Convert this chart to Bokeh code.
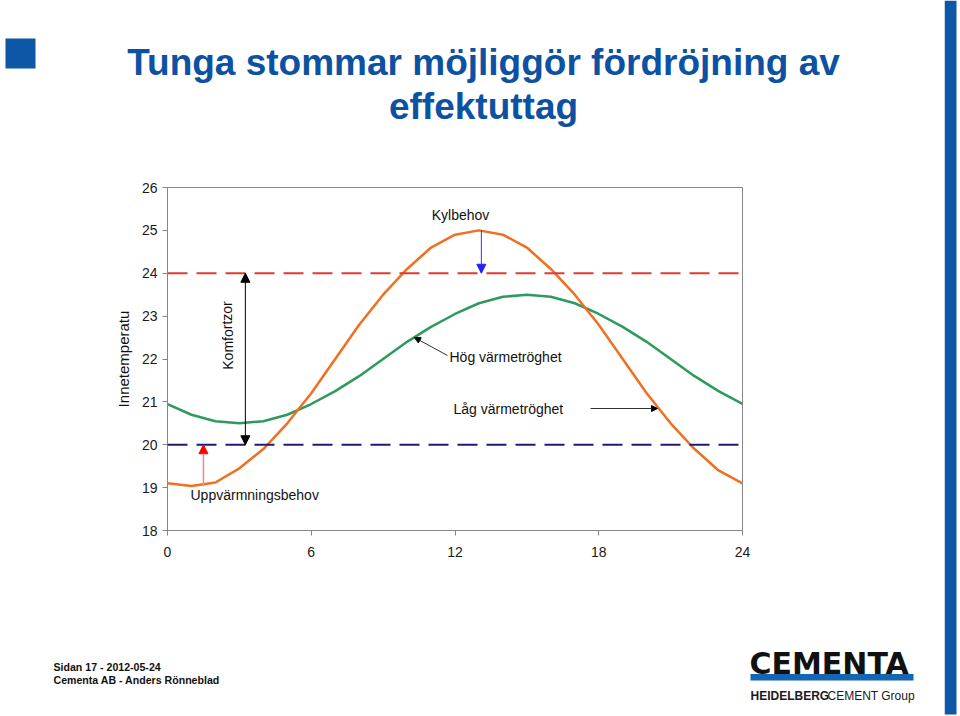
from bokeh.plotting import figure
from bokeh.layouts import column, row
from bokeh.models import Range1d, FixedTicker, Span, Label, Arrow, NormalHead
from bokeh.embed import file_html
from bokeh.resources import INLINE

# ---------------- data ----------------
hours = list(range(25))
lag_varmetroghet = [19.1, 19.04, 19.12, 19.45, 19.9, 20.5, 21.2, 22.0, 22.8, 23.5, 24.1, 24.6, 24.9,
                    25.0, 24.9, 24.6, 24.1, 23.5, 22.8, 22.0, 21.2, 20.5, 19.9, 19.4, 19.1]
hog_varmetroghet = [20.95, 20.7, 20.55, 20.5, 20.55, 20.7, 20.95, 21.25, 21.6, 22.0, 22.4, 22.75, 23.05,
                    23.3, 23.45, 23.5, 23.45, 23.3, 23.05, 22.75, 22.4, 22.0, 21.6, 21.25, 20.95]
komfort_min = 20
komfort_max = 24
x_ticks = [0, 6, 12, 18, 24]
y_ticks = [18, 19, 20, 21, 22, 23, 24, 25, 26]

# ---------------- page geometry ----------------
PW = 944            # width of the main column (right blue bar strip beside it)
TOP_H = 150         # title band
MID_H = 450         # chart band
BOT_H = 716 - TOP_H - MID_H
FL, FR, FT, FB = 167, 742, 187, 530   # chart frame in page pixels
X0, X1, Y0, Y1 = 0, 24, 18, 26
BLUE = "#0d57a6"
TITLE_BLUE = "#0d52a2"


def dx(px):
    return X0 + (px - FL) / (FR - FL) * (X1 - X0)


def dy(py):
    return Y0 + (FB - py) / (FB - FT) * (Y1 - Y0)


def band(w, h, x_left, y_top):
    f = figure(width=w, height=h, output_backend="svg", toolbar_location=None,
               x_range=Range1d(x_left, x_left + w),
               y_range=Range1d(y_top + h, y_top),
               min_border=0, x_axis_location=None, y_axis_location=None,
               frame_align=False)
    f.grid.visible = False
    f.outline_line_color = None
    f.background_fill_color = "white"
    f.border_fill_color = "white"
    return f


def lab(fig, text, x, y, size="14px", align="left", baseline="middle", angle=0,
        font="Liberation Sans", color="#111111", style="normal"):
    fig.add_layout(Label(x=x, y=y, text=text, text_font=font, text_font_size=size,
                         text_align=align, text_baseline=baseline, angle=angle,
                         text_color=color, text_font_style=style))


# ---------------- title band ----------------
top = band(PW, TOP_H, 0, 0)
top.quad(left=[5], right=[35], top=[38], bottom=[68], fill_color=BLUE, line_color=None)
lab(top, "Tunga stommar möjliggör fördröjning av", 483, 61.5, size="37px", align="center",
    font="Liberation Sans", color=TITLE_BLUE, style="bold")
lab(top, "effektuttag", 483, 105.5, size="37px", align="center",
    font="Liberation Sans", color=TITLE_BLUE, style="bold")

# ---------------- chart band ----------------
p = figure(width=PW, height=MID_H, output_backend="svg", toolbar_location=None,
           x_range=Range1d(X0, X1), y_range=Range1d(Y0, Y1),
           min_border_left=FL, min_border_right=PW - FR,
           min_border_top=FT - TOP_H, min_border_bottom=TOP_H + MID_H - FB,
           frame_align=False)
p.grid.visible = False
p.outline_line_color = "#868686"
p.background_fill_color = "white"
p.border_fill_color = "white"

for ax in (p.xaxis[0], p.yaxis[0]):
    ax.axis_line_color = "#868686"
    ax.major_tick_line_color = "#868686"
    ax.minor_tick_line_color = None
    ax.major_tick_out = 5
    ax.major_tick_in = 0
    ax.major_label_text_font = "Liberation Sans"
    ax.major_label_text_font_size = "14px"
    ax.major_label_text_color = "#1a1a1a"
p.xaxis.ticker = FixedTicker(ticks=x_ticks)
p.yaxis.ticker = FixedTicker(ticks=y_ticks)
p.xaxis.major_label_standoff = 11
p.yaxis.major_label_standoff = 5
p.yaxis.axis_label = "Innetemperatu"
p.yaxis.axis_label_text_font = "Liberation Sans"
p.yaxis.axis_label_text_font_size = "15px"
p.yaxis.axis_label_text_font_style = "normal"
p.yaxis.axis_label_text_color = "#111111"
p.yaxis.axis_label_standoff = 7

p.add_layout(Span(location=komfort_max, dimension="width", line_color="#e03a34",
                  line_width=2, line_dash="20 9"))
p.add_layout(Span(location=komfort_min, dimension="width", line_color="#1c1c78",
                  line_width=2, line_dash="20 9"))

p.line(hours, hog_varmetroghet, line_color="#2e9a5c", line_width=2.5)
p.line(hours, lag_varmetroghet, line_color="#f07022", line_width=2.5)

p.add_layout(Arrow(start=NormalHead(size=9, fill_color="black", line_color="black"),
                   end=NormalHead(size=9, fill_color="black", line_color="black"),
                   x_start=3.25, y_start=komfort_min, x_end=3.25, y_end=komfort_max,
                   line_color="black", line_width=1))
p.add_layout(Arrow(end=NormalHead(size=9, fill_color="#ff0000", line_color="#ff0000"),
                   x_start=1.5, y_start=19.03, x_end=1.5, y_end=komfort_min,
                   line_color="#e88894", line_width=1.5))
p.add_layout(Arrow(end=NormalHead(size=9, fill_color="#2020ff", line_color="#2020ff"),
                   x_start=13.1, y_start=25.0, x_end=13.1, y_end=komfort_max,
                   line_color="#3030ff", line_width=1))
p.add_layout(Arrow(end=NormalHead(size=6, fill_color="black", line_color="black"),
                   x_start=dx(447), y_start=dy(355), x_end=dx(414), y_end=dy(337),
                   line_color="#333333", line_width=1))
p.add_layout(Arrow(end=NormalHead(size=6, fill_color="black", line_color="black"),
                   x_start=dx(590), y_start=dy(408), x_end=dx(657), y_end=dy(408),
                   line_color="#333333", line_width=1))

lab(p, "Kylbehov", dx(460), dy(214), align="center")
lab(p, "Uppvärmningsbehov", dx(190), dy(494))
lab(p, "Hög värmetröghet", dx(449), dy(356))
lab(p, "Låg värmetröghet", dx(453), dy(408))
lab(p, "Komfortzor", dx(227), dy(335), align="center", angle=1.5708)

# ---------------- footer band ----------------
bot = band(PW, BOT_H, 0, TOP_H + MID_H)
lab(bot, "Sidan 17 - 2012-05-24", 53, 666, size="10.6px", style="bold")
lab(bot, "Cementa AB - Anders Rönneblad", 53, 679.5, size="10.6px", style="bold")
lab(bot, "CEMENTA", 749, 662.5, size="30px", style="bold",
    font="DejaVu Sans", color="#111111")
bot.quad(left=[750], right=[913], top=[673.5], bottom=[680], fill_color="#1566b2", line_color=None)
lab(bot, "HEIDELBERG", 750, 695, size="12px", style="bold",
    font="Liberation Sans", color="#1a1a1a")
lab(bot, "CEMENT Group", 827, 695, size="12px",
    font="Liberation Sans", color="#1a1a1a")

# ---------------- right blue bar ----------------
bar = band(16, 716, PW, 0)
bar.quad(left=[PW], right=[PW + 12], top=[0], bottom=[714], fill_color=BLUE, line_color=None)

page = row(column(top, p, bot, spacing=0), bar, spacing=0)
open("out.html", "w").write(file_html(page, INLINE))
